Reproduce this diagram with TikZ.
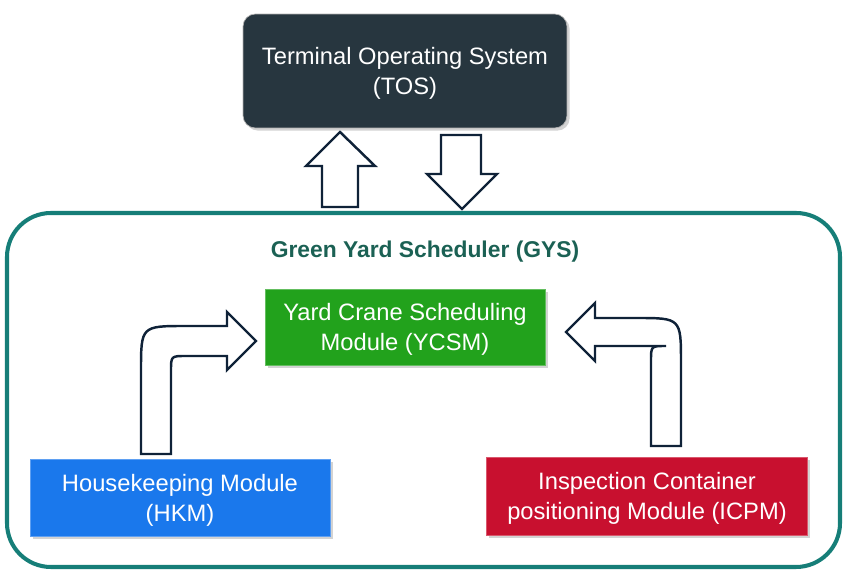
\documentclass[tikz,border=0pt]{standalone}
\usepackage{fontspec}
\setmainfont{Liberation Sans}
\usetikzlibrary{shadows}
\definecolor{tosdark}{HTML}{27363F}
\definecolor{gysteal}{HTML}{167E78}
\definecolor{gystext}{HTML}{1B6154}
\definecolor{ycsmgreen}{HTML}{22A21C}
\definecolor{hkmblue}{HTML}{1A78EC}
\definecolor{icpmred}{HTML}{C8102F}
\definecolor{arrownavy}{HTML}{0F2238}
\begin{document}
\begin{tikzpicture}[x=0.02cm, y=-0.02cm,
  module/.style={draw=#1!70!white, fill=#1, text=white, align=center, inner sep=0pt,
    text depth=-1pt, font=\fontsize{13.5}{17}\selectfont,
    drop shadow={shadow xshift=1.5pt, shadow yshift=-1.5pt, opacity=0.35}},
  blockarrow/.style={draw=arrownavy, fill=white, line width=1.4pt, line join=miter}]
\useasboundingbox (0,0) rectangle (850,577);
% scheduler frame
\draw[gysteal, line width=2.3pt, rounded corners=25pt] (7,213) rectangle (840,567);
\node[text=gystext, font=\bfseries\fontsize{13}{17}\selectfont] (gys) at (425,252) {Green Yard Scheduler (GYS)};
% modules
\node[module=tosdark, draw=gray!60, rounded corners=7pt, minimum width=6.48cm, minimum height=2.28cm] (tos) at (405,71)
  {Terminal Operating System\\(TOS)};
\node[module=ycsmgreen, minimum width=5.6cm, minimum height=1.52cm] (ycsm) at (405,327)
  {Yard Crane Scheduling\\Module (YCSM)};
\node[module=hkmblue, minimum width=6cm, minimum height=1.54cm] (hkm) at (180,498)
  {Housekeeping Module\\(HKM)};
\node[module=icpmred, minimum width=6.42cm, minimum height=1.56cm] (icpm) at (647,496)
  {Inspection Container\\positioning Module (ICPM)};
% arrows to and from TOS
\draw[blockarrow] (322,207)--(322,166)--(306,166)--(340,132)--(375,166)--(358,166)--(358,207)--cycle;
\draw[blockarrow] (441,135)--(481,135)--(481,174)--(497,174)--(462,209)--(427,174)--(441,174)--cycle;
% bent arrows into YCSM
\draw[blockarrow] (141,454)--(141,371) .. controls (141,326) .. (186,326)--(227,326)--(227,312)
  --(256,341)--(227,370)--(227,356)--(186,356) .. controls (171,356) .. (171,371)--(171,454)--cycle;
\draw[blockarrow] (681,446)--(681,363) .. controls (681,318) .. (636,318)--(595,318)--(595,303)
  --(566,332)--(595,361)--(595,346)--(666,346) .. controls (651,346) .. (651,361)--(651,446)--cycle;
\end{tikzpicture}
\end{document}
